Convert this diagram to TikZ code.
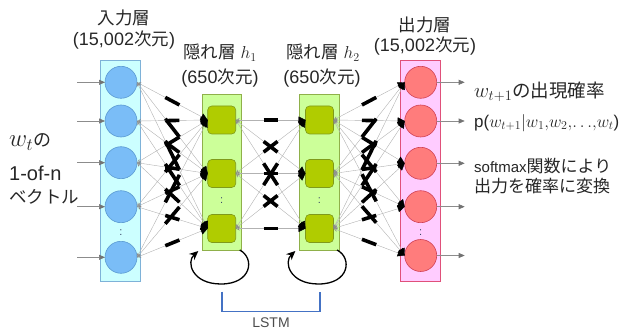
\documentclass[tikz,border=0pt]{standalone}
\usepackage{fontspec}
\setmainfont{Liberation Sans}
\newfontfamily\jpfont{Noto Sans CJK JP}
\newcommand\J[2]{{\jpfont\fontsize{#1}{#1}\selectfont #2}}
\usetikzlibrary{arrows.meta,calc}
\definecolor{inrectfill}{HTML}{CCFFFF}
\definecolor{inrectdraw}{HTML}{7EB2D8}
\definecolor{incircfill}{HTML}{7ABDF7}
\definecolor{incircdraw}{HTML}{5A9AD2}
\definecolor{hidrectfill}{HTML}{CCFF99}
\definecolor{hidrectdraw}{HTML}{8FB04A}
\definecolor{hidsqfill}{HTML}{B0CC00}
\definecolor{hidsqdraw}{HTML}{7F9A1A}
\definecolor{outrectfill}{HTML}{FFCCFF}
\definecolor{outrectdraw}{HTML}{E0507A}
\definecolor{outcircfill}{HTML}{FF7C7C}
\definecolor{outcircdraw}{HTML}{D04055}
\definecolor{lstmblue}{HTML}{4472C4}
\definecolor{dotcol}{HTML}{3A4A6A}
\definecolor{txt}{HTML}{262626}
\begin{document}
\begin{tikzpicture}[x=1pt,y=-1pt,
  layerbox/.style={rectangle,inner sep=0pt,outer sep=0pt,line width=0.8pt},
  inunit/.style={circle,minimum size=32pt,inner sep=0pt,outer sep=0pt,fill=incircfill,draw=incircdraw,line width=0.6pt},
  outunit/.style={circle,minimum size=32pt,inner sep=0pt,outer sep=0pt,fill=outcircfill,draw=outcircdraw,line width=0.6pt},
  hidunit/.style={rectangle,rounded corners=4pt,minimum size=28pt,inner sep=0pt,outer sep=0pt,fill=hidsqfill,draw=hidsqdraw,line width=0.6pt},
  conn/.style={draw=black!30,line width=0.4pt,{Stealth[black!45,length=4pt,width=4pt,open]}-{Triangle[black,length=7pt,width=7pt]}},
  midbar/.style={draw=black,line width=3.6pt},
  ioarrow/.style={draw=black!45,line width=0.6pt,-{Triangle[black!55,length=6pt,width=5pt]}},
  selfloop/.style={draw=black,line width=1.3pt,-{Stealth[length=9pt,width=8pt]}},
  dots/.style={inner sep=0pt,font=\fontsize{11}{11}\selectfont,text=dotcol},
  title/.style={font=\fontsize{18}{20}\selectfont,inner sep=0pt,text=txt},
  side/.style={inner sep=0pt,anchor=west,text=txt}]
\useasboundingbox (0,0) rectangle (620,331);

% layer boxes
\node[layerbox,fill=inrectfill,draw=inrectdraw,minimum width=39.3pt,minimum height=221pt] (inL) at (120.4,170.5) {};
\node[layerbox,fill=hidrectfill,draw=hidrectdraw,minimum width=39.4pt,minimum height=156pt] (h1L) at (222,172) {};
\node[layerbox,fill=hidrectfill,draw=hidrectdraw,minimum width=39.7pt,minimum height=156pt] (h2L) at (319.2,172) {};
\node[layerbox,fill=outrectfill,draw=outrectdraw,minimum width=40.7pt,minimum height=221pt] (outL) at (420.4,170.5) {};

% units
\foreach \n/\y in {1/82.3,2/121,3/162.7,4/206.7,5/257.3}
  \node[inunit] (in\n) at (121,\y) {};
\foreach \n/\y in {1/82.3,2/121,3/163.3,4/206.7,5/255.5}
  \node[outunit] (out\n) at (420.7,\y) {};
\foreach \n/\y in {1/120,2/173.5,3/228.5}{
  \node[hidunit] (ha\n) at (221.7,\y) {};
  \node[hidunit] (hb\n) at (319.5,\y) {};
}
\node[dots] (dIn) at (121,233) {:};
\node[dots] (dOut) at (420.7,233) {:};
\node[dots] (dH1) at (221.7,200.5) {:};
\node[dots] (dH2) at (319.5,200.5) {:};

% connectors input -> h1
\foreach \i in {1,...,5}
  \foreach \j in {1,2,3}{
    \draw[conn] (in\i.east) -- (ha\j.west);
    \draw[midbar] ($(in\i.east)!.4!(ha\j.west)$) -- ($(in\i.east)!.6!(ha\j.west)$);
  }
% h1 -> h2
\foreach \i in {1,2,3}
  \foreach \j in {1,2,3}{
    \draw[conn] (ha\i.east) -- (hb\j.west);
    \draw[midbar] ($(ha\i.east)!.4!(hb\j.west)$) -- ($(ha\i.east)!.6!(hb\j.west)$);
  }
% h2 -> output
\foreach \i in {1,2,3}
  \foreach \j in {1,...,5}{
    \draw[conn] (hb\i.east) -- (out\j.west);
    \draw[midbar] ($(hb\i.east)!.4!(out\j.west)$) -- ($(hb\i.east)!.6!(out\j.west)$);
  }

% input and output arrows
\foreach \n in {1,...,5}{
  \coordinate (src\n) at ($(in\n.west)+(-28,0)$);
  \draw[ioarrow] (src\n) -- (in\n.west);
  \coordinate (dst\n) at ($(out\n.east)+(28,0)$);
  \draw[ioarrow] (out\n.east) -- (dst\n);
}

% self loops
\draw[selfloop] ([xshift=-2pt]h1L.south east) .. controls (255,258) and (252,284) .. (221,284)
   .. controls (192,284) and (186,262) .. ([xshift=-4pt,yshift=-1pt]h1L.south west);
\draw[selfloop] ([xshift=-2pt]h2L.south east) .. controls (352.5,258) and (349.5,284) .. (318.5,284)
   .. controls (289.5,284) and (283.5,262) .. ([xshift=-4pt,yshift=-1pt]h2L.south west);

% LSTM bracket
\coordinate (bA) at (222,291.7);
\coordinate (bB) at (222,311.7);
\coordinate (bC) at (320,311.7);
\coordinate (bD) at (320,291.7);
\draw[lstmblue,line width=1.4pt] (bA) -- (bB) -- (bC) -- (bD);
\node[font=\fontsize{14}{15}\selectfont,text=black!70,inner sep=0pt] (lstm) at (271,323) {LSTM};

% titles
\node[title] (tIn1) at (124,18) {\J{17.5}{入力層}};
\node[title] (tIn2) at (124,40) {(15,002\J{17.5}{次元})};
\node[title] (tH11) at (220,53) {\J{17.5}{隠れ層} $h_{1}$};
\node[title] (tH12) at (220,78) {(650\J{17.5}{次元})};
\node[title] (tH21) at (323,53) {\J{17.5}{隠れ層} $h_{2}$};
\node[title] (tH22) at (322,78) {(650\J{17.5}{次元})};
\node[title] (tOut1) at (425,25) {\J{17.5}{出力層}};
\node[title] (tOut2) at (425,46) {(15,002\J{17.5}{次元})};

% left text
\node[side,font=\fontsize{20}{22}\selectfont] (l1) at (9,142) {{\fontsize{24}{24}\selectfont$w_{t}$}\J{18}{の}};
\node[side,font=\fontsize{20}{22}\selectfont] (l2) at (9,173) {1-of-n};
\node[side] (l3) at (9,197) {\J{17.5}{ベクトル}};

% right text
\node[side,font=\fontsize{21}{22}\selectfont] (r1) at (474,92) {$w_{t+1}$\J{18.5}{の出現確率}};
\node[side,font=\fontsize{17}{19}\selectfont] (r2) at (474,123) {p($w_{t+1}|w_{1}{,}w_{2}{,}{\ldotp\ldotp\ldotp}{,}w_{t}$)};
\node[side,font=\fontsize{15}{17}\selectfont] (r3) at (474,166) {softmax\J{17}{関数により}};
\node[side] (r4) at (474,186) {\J{17}{出力を確率に変換}};
\end{tikzpicture}
\end{document}
